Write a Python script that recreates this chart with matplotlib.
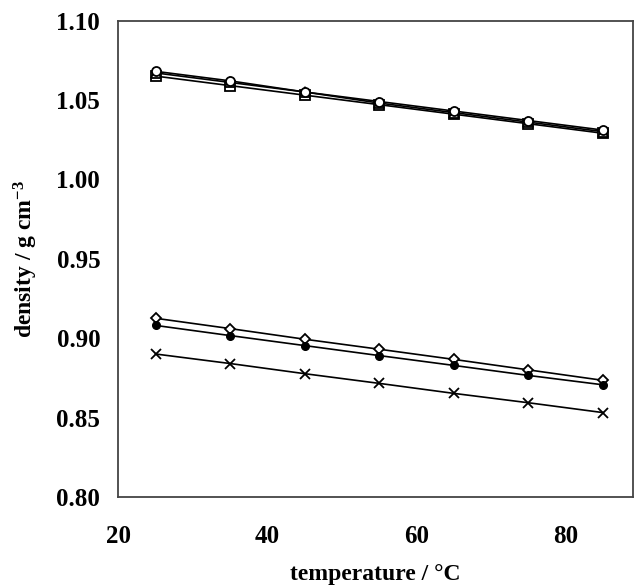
import matplotlib
matplotlib.use("Agg")
import matplotlib.pyplot as plt

plt.rcParams["font.family"] = ["Liberation Serif", "DejaVu Serif"]
plt.rcParams["font.weight"] = "bold"
plt.rcParams["mathtext.fontset"] = "custom"
plt.rcParams["mathtext.rm"] = "Liberation Serif:bold"
plt.rcParams["mathtext.bf"] = "Liberation Serif:bold"
plt.rcParams["mathtext.default"] = "rm"

temp = [25, 35, 45, 55, 65, 75, 85]

# upper group
circ_open = [1.068, 1.062, 1.055, 1.049, 1.043, 1.037, 1.031]
tri_open = [1.067, 1.061, 1.055, 1.048, 1.042, 1.036, 1.030]
sq_open = [1.065, 1.059, 1.053, 1.047, 1.041, 1.035, 1.029]

# lower group
diam_open = [0.9125, 0.906, 0.8993, 0.893, 0.8866, 0.880, 0.8734]
circ_fill = [0.908, 0.9016, 0.8953, 0.889, 0.8828, 0.8765, 0.8706]
cross = [0.890, 0.884, 0.8776, 0.8715, 0.8652, 0.8593, 0.8531]

fig = plt.figure(figsize=(6.36, 5.86), dpi=100)
ax = fig.add_axes([0.186, 0.152, 0.809, 0.813])

kw = dict(color="black", lw=1.2, ms=6.5, mew=1.3)
ax.plot(temp, sq_open, marker="s", mfc="white", mec="black", **kw)
ax.plot(temp, tri_open, marker="^", mfc="white", mec="black", **kw)
ax.plot(temp, circ_open, marker="o", mfc="white", mec="black", **kw)
ax.plot(temp, diam_open, marker="D", mfc="white", mec="black", ms=5.5, mew=1.3, color="black", lw=1.2)
ax.plot(temp, circ_fill, marker="o", mfc="black", mec="black", ms=5.5, color="black", lw=1.2)
ax.plot(temp, cross, marker="x", mec="black", ms=7, mew=1.3, color="black", lw=1.2)

ax.set_xlim(20, 89)
ax.set_ylim(0.80, 1.10)
ax.set_xticks([20, 40, 60, 80])
ax.set_yticks([0.80, 0.85, 0.90, 0.95, 1.00, 1.05, 1.10])
ax.set_yticklabels(["%.2f" % v for v in ax.get_yticks()])
ax.tick_params(length=0, labelsize=18)
ax.tick_params(axis="y", pad=13)
ax.tick_params(axis="x", pad=20)
for lab in ax.get_xticklabels() + ax.get_yticklabels():
    lab.set_fontweight("bold")

for s in ax.spines.values():
    s.set_color("#444444")
    s.set_linewidth(1.3)

ax.set_xlabel("temperature / °C", fontsize=17, fontweight="bold", labelpad=12)
ax.set_ylabel("density / g cm$^{-3}$", fontsize=17, fontweight="bold", labelpad=12)

fig.savefig("out.png", dpi=100)
